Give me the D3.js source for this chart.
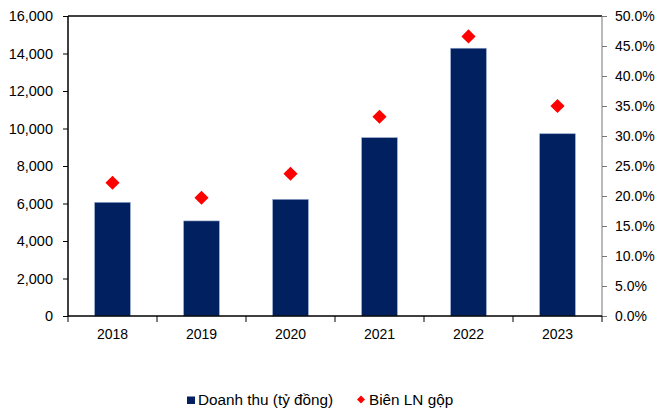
<!DOCTYPE html>
<html><head><meta charset="utf-8">
<script src="https://cdn.jsdelivr.net/npm/d3@7"></script>
<style>
html,body{margin:0;padding:0;background:#fff;}
svg{display:block;font-family:"Liberation Sans",Arial,sans-serif;}
</style></head>
<body><svg id="c" width="659" height="410"></svg>
<script>
const years = ["2018","2019","2020","2021","2022","2023"];
const revenue = [6060, 5070, 6220, 9510, 14280, 9720];
const margin = [0.222, 0.197, 0.237, 0.332, 0.466, 0.350];
const leftTicks = [0,2000,4000,6000,8000,10000,12000,14000,16000];
const rightTicks = [0,0.05,0.1,0.15,0.2,0.25,0.3,0.35,0.4,0.45,0.5];
const seriesNames = ["Doanh thu (tỷ đồng)", "Biên LN gộp"];

const svg = d3.select("#c");
const L = 68, R = 602, T = 16, B = 316;
const x = d3.scaleBand().domain(years).range([L, R]).paddingInner(0.6).paddingOuter(0.3);
const xc = d3.scaleBand().domain(years).range([L, R]);
const yL = d3.scaleLinear().domain([0,16000]).range([B, T]);
const yR = d3.scaleLinear().domain([0,0.5]).range([B, T]);
const barColor = "#002060", dotColor = "#ff0000";

// bars
svg.append("g").selectAll("rect").data(years).join("rect")
  .attr("x", d => x(d)).attr("width", x.bandwidth())
  .attr("y", (d,i) => yL(revenue[i])).attr("height", (d,i) => B - yL(revenue[i]))
  .attr("fill", barColor).attr("stroke", "#8ea3c8").attr("stroke-width", 0.6);

// frame top
svg.append("line").attr("x1", L).attr("x2", R).attr("y1", T).attr("y2", T)
  .attr("stroke", "#000").attr("stroke-width", 1.5);

// left axis
const gl = svg.append("g").attr("transform", `translate(${L},0)`)
  .call(d3.axisLeft(yL).tickValues(leftTicks).tickSize(5).tickPadding(10).tickFormat(d3.format(",")));
// right axis
const gr = svg.append("g").attr("transform", `translate(${R},0)`)
  .call(d3.axisRight(yR).tickValues(rightTicks).tickSize(5).tickPadding(8).tickFormat(d3.format(".1%")));
// bottom axis
const gb = svg.append("g").attr("transform", `translate(0,${B})`)
  .call(d3.axisBottom(xc).tickSize(0).tickPadding(13));
// category boundary ticks
svg.append("g").selectAll("line").data(d3.range(years.length + 1)).join("line")
  .attr("x1", i => L + i * xc.step()).attr("x2", i => L + i * xc.step())
  .attr("y1", B).attr("y2", B + 6).attr("stroke", "#000").attr("stroke-width", 1);

[gl, gr, gb].forEach(g => {
  g.selectAll("text").attr("font-size", 14).attr("fill", "#000")
   .attr("font-family", '"Liberation Sans",Arial,sans-serif');
  g.selectAll("path.domain").attr("stroke", "#000");
  g.selectAll(".tick line").attr("stroke", "#000");
});
gl.selectAll("text").attr("font-size", 14.5);
gr.selectAll("path.domain").attr("stroke", "#777");
gr.selectAll(".tick line").attr("stroke", "#777");
gl.select("path.domain").attr("d", `M0,${B}V${T}`).attr("stroke-width", 1.5);
gr.select("path.domain").attr("d", `M0,${B}V${T}`);
gb.select("path.domain").attr("d", `M${L},0H${R}`).attr("stroke-width", 1.5);

// diamonds
const dsym = d3.symbol().type(d3.symbolSquare).size(100);
svg.append("g").selectAll("path").data(years).join("path")
  .attr("d", dsym)
  .attr("transform", (d,i) => `translate(${xc(d) + xc.bandwidth()/2},${yR(margin[i])}) rotate(45)`)
  .attr("fill", dotColor);

// legend
const lg = svg.append("g");
lg.append("rect").attr("x", 187).attr("y", 396.5).attr("width", 8).attr("height", 7.5).attr("fill", barColor);
lg.append("text").attr("x", 198).attr("y", 405).attr("font-size", 15.3).text(seriesNames[0]);
lg.append("path").attr("d", d3.symbol().type(d3.symbolSquare).size(32))
  .attr("transform", "translate(361,399.5) rotate(45)").attr("fill", dotColor);
lg.append("text").attr("x", 369).attr("y", 405).attr("font-size", 15.3).text(seriesNames[1]);
</script></body></html>
